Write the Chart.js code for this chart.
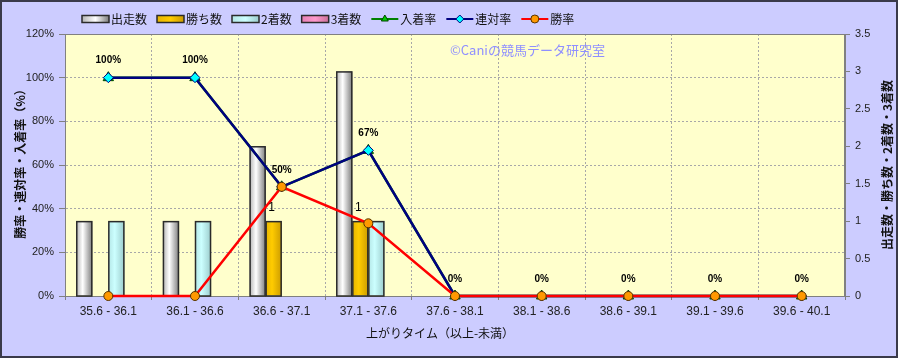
<!DOCTYPE html>
<html>
<head>
<meta charset="utf-8">
<script src="https://cdn.jsdelivr.net/npm/chart.js@4.4.0/dist/chart.umd.min.js"></script>
<style>
  html, body { margin: 0; padding: 0; background: #fff; }
  canvas { display: block; }
</style>
</head>
<body>
<canvas id="chart" width="898" height="358"></canvas>
<script>
/* global Chart */

const categories = ['35.6 - 36.1', '36.1 - 36.6', '36.6 - 37.1', '37.1 - 37.6', '37.6 - 38.1',
  '38.1 - 38.6', '38.6 - 39.1', '39.1 - 39.6', '39.6 - 40.1'];
const starts = [1, 1, 2, 3, 0, 0, 0, 0, 0];
const wins = [0, 0, 1, 1, 0, 0, 0, 0, 0];
const seconds = [1, 1, 0, 1, 0, 0, 0, 0, 0];
const thirds = [0, 0, 0, 0, 0, 0, 0, 0, 0];
const placeRate = [100, 100, 50, 66.7, 0, 0, 0, 0, 0];
const quinellaRate = [100, 100, 50, 66.7, 0, 0, 0, 0, 0];
const winRate = [0, 0, 50, 33.3, 0, 0, 0, 0, 0];

const JP = "'Noto Sans CJK JP', sans-serif";
const NUM = "'Liberation Sans', Arial, sans-serif";

// cylinder-like fills for the bars
const barFills = [
  [[0, '#b4b4b4'], [0.4, '#ffffff'], [1, '#7c7c7c']],
  [[0, '#e6b400'], [0.4, '#ffcc00'], [1, '#cc9c00']],
  [[0, '#b4e6e6'], [0.4, '#ccffff'], [1, '#9ccccc']],
  [[0, '#e680b4'], [0.4, '#ff99cc'], [1, '#cc7099']],
];

function makeGradient(ctx, x0, x1, stops) {
  const g = ctx.createLinearGradient(x0, 0, x1, 0);
  stops.forEach(([p, c]) => g.addColorStop(p, c));
  return g;
}

function barDataset(label, data, idx) {
  return {
    label,
    data,
    yAxisID: 'y1',
    order: 10,
    fillIndex: idx,
    backgroundColor: 'rgba(0,0,0,0)',
    borderWidth: 0,
    barPercentage: 1.0,
    categoryPercentage: 0.74,
  };
}

function lineDataset(label, data, color, style, fill, edge, radius, order) {
  return {
    type: 'line',
    label,
    data,
    yAxisID: 'y',
    order,
    clip: false,
    borderColor: color,
    borderWidth: 2.5,
    pointStyle: style,
    pointRadius: radius,
    pointBackgroundColor: fill,
    pointBorderColor: edge,
    pointBorderWidth: 1,
    tension: 0,
  };
}

const backgroundPlugin = {
  id: 'background',
  beforeDraw(chart) {
    const { ctx, chartArea: a } = chart;
    ctx.save();
    ctx.fillStyle = '#ccccff';
    ctx.fillRect(0, 0, chart.width, chart.height);
    ctx.strokeStyle = '#3a3a4a';
    ctx.lineWidth = 2;
    ctx.strokeRect(1, 1, chart.width - 2, chart.height - 2);
    ctx.fillStyle = '#ffffcc';
    ctx.fillRect(a.left, a.top, a.right - a.left, a.bottom - a.top);
    ctx.restore();
  },
  beforeDatasetsDraw(chart) {
    const { ctx, chartArea: a } = chart;
    ctx.save();
    ctx.strokeStyle = '#808080';
    ctx.lineWidth = 1;
    ctx.strokeRect(a.left + 0.5, a.top + 0.5, a.right - a.left - 1, a.bottom - a.top);
    // watermark
    ctx.fillStyle = '#8f8fff';
    ctx.font = '13px ' + JP;
    ctx.textBaseline = 'middle';
    ctx.fillText('©Caniの競馬データ研究室', 450, 50);
    ctx.restore();
  },
};

const barFillPlugin = {
  id: 'barFill',
  afterDatasetDraw(chart, args) {
    const ds = chart.data.datasets[args.index];
    if (args.meta.type !== 'bar') return;
    const ctx = chart.ctx;
    ctx.save();
    args.meta.data.forEach((el, i) => {
      if (!ds.data[i]) return;
      const { x, y, base, width } = el.getProps(['x', 'y', 'base', 'width'], true);
      const left = x - width / 2;
      ctx.fillStyle = makeGradient(ctx, left, left + width, barFills[ds.fillIndex]);
      ctx.fillRect(left, y, width, base - y);
      ctx.strokeStyle = '#2a2a2a';
      ctx.lineWidth = 1.5;
      ctx.strokeRect(left + 0.5, y + 0.5, width - 1, base - y);
    });
    ctx.restore();
  },
};

const labelPlugin = {
  id: 'valueLabels',
  afterDatasetsDraw(chart) {
    const ctx = chart.ctx;
    ctx.save();
    ctx.textAlign = 'center';
    ctx.textBaseline = 'middle';
    ctx.fillStyle = '#000';
    // 連対率 labels
    ctx.font = 'bold 10px ' + NUM;
    chart.getDatasetMeta(5).data.forEach((el, i) => {
      ctx.fillText(Math.round(quinellaRate[i]) + '%', el.x, el.y - 17);
    });
    // 勝ち数 labels
    ctx.font = '12px ' + NUM;
    chart.getDatasetMeta(1).data.forEach((el, i) => {
      if (wins[i] > 0) ctx.fillText(String(wins[i]), el.x - 2, el.y - 13);
    });
    ctx.restore();
  },
};

const decorPlugin = {
  id: 'decor',
  afterDraw(chart) {
    const ctx = chart.ctx;
    const a = chart.chartArea;
    ctx.save();
    ctx.fillStyle = '#111';
    ctx.textBaseline = 'middle';
    ctx.textAlign = 'center';
    // axis titles
    ctx.font = '12px ' + JP;
    ctx.fillText('上がりタイム（以上-未満）', 440, 333);
    ctx.font = 'bold 12px ' + JP;
    ctx.save();
    ctx.translate(20, (a.top + a.bottom) / 2 - 4);
    ctx.rotate(-Math.PI / 2);
    ctx.fillText('勝率・連対率・入着率（%）', 0, 0);
    ctx.restore();
    ctx.save();
    ctx.translate(887, (a.top + a.bottom) / 2);
    ctx.rotate(-Math.PI / 2);
    ctx.fillText('出走数・勝ち数・2着数・3着数', 0, 0);
    ctx.restore();

    // legend row
    ctx.textAlign = 'left';
    ctx.font = '12px ' + JP;
    let x = 82;
    const cy = 19;
    chart.data.datasets.forEach((ds) => {
      if (ds.type === 'line') {
        ctx.strokeStyle = ds.borderColor;
        ctx.lineWidth = 2;
        ctx.beginPath();
        ctx.moveTo(x, cy);
        ctx.lineTo(x + 27, cy);
        ctx.stroke();
        ctx.fillStyle = ds.pointBackgroundColor;
        ctx.strokeStyle = ds.pointBorderColor;
        ctx.lineWidth = 1;
        Chart.helpers.drawPoint(ctx, { pointStyle: ds.pointStyle, radius: 4, borderWidth: 1 }, x + 13.5, cy);
      } else {
        ctx.fillStyle = makeGradient(ctx, x, x + 27, [[0, barFills[ds.fillIndex][0][1]],
          [0.5, barFills[ds.fillIndex][1][1]], [1, barFills[ds.fillIndex][2][1]]]);
        ctx.fillRect(x, cy - 3.5, 27, 7);
        ctx.strokeStyle = '#2a2a2a';
        ctx.lineWidth = 1.5;
        ctx.strokeRect(x, cy - 3.5, 27, 7);
      }
      ctx.fillStyle = '#111';
      ctx.fillText(ds.label, x + 29, cy);
      x += 29 + ctx.measureText(ds.label).width + 10;
    });
    ctx.restore();
  },
};

function buildChart() {
  const config = {
    type: 'bar',
    data: {
      labels: categories,
      datasets: [
        barDataset('出走数', starts, 0),
        barDataset('勝ち数', wins, 1),
        barDataset('2着数', seconds, 2),
        barDataset('3着数', thirds, 3),
        lineDataset('入着率', placeRate, '#008000', 'triangle', '#00cc00', '#004400', 6, 3),
        lineDataset('連対率', quinellaRate, '#000080', 'rectRot', '#00ffff', '#000080', 5, 2),
        lineDataset('勝率', winRate, '#ff0000', 'circle', '#ff9900', '#553300', 4.5, 1),
      ],
    },
    options: {
      responsive: false,
      devicePixelRatio: 1,
      animation: false,
      layout: { padding: { top: 34, left: 0, right: 0, bottom: 0 } },
      plugins: {
        legend: { display: false },
        tooltip: { enabled: false },
      },
      scales: {
        x: {
          afterFit: (s) => { s.height = 62; },
          grid: { color: '#a8a8a8', tickLength: 4, tickColor: '#808080' },
          border: { color: '#808080', dash: [2, 2] },
          ticks: { color: '#222', font: { family: NUM, size: 12 }, padding: 4, maxRotation: 0 },
        },
        y: {
          position: 'left',
          min: 0,
          max: 120,
          afterFit: (s) => { s.width = 65; },
          grid: { color: '#a8a8a8', tickLength: 6, tickColor: '#808080' },
          border: { color: '#808080', dash: [2, 2] },
          ticks: {
            stepSize: 20,
            color: '#222',
            font: { family: NUM, size: 11 },
            padding: 5,
            callback: (v) => v + '%',
          },
        },
        y1: {
          position: 'right',
          min: 0,
          max: 3.5,
          afterFit: (s) => { s.width = 53; },
          grid: { drawOnChartArea: false, tickLength: 5, tickColor: '#808080' },
          border: { color: '#808080' },
          ticks: {
            stepSize: 0.5,
            color: '#222',
            font: { family: NUM, size: 11 },
            padding: 5,
            callback: (v) => String(v),
          },
        },
      },
    },
    plugins: [backgroundPlugin, barFillPlugin, labelPlugin, decorPlugin],
  };

  return new Chart(document.getElementById('chart'), config);
}

buildChart();
</script>
</body>
</html>
